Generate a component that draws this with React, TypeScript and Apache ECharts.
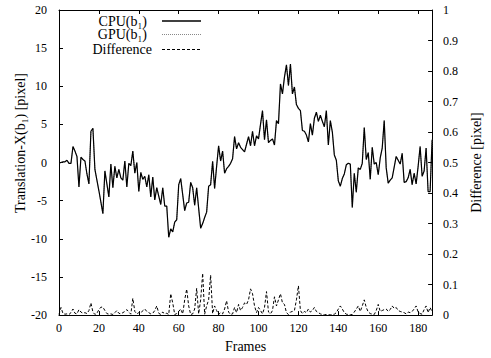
import React, { useEffect, useRef } from "react";
import * as echarts from "echarts";

// Translation-X(b1) per frame, CPU result
const cpuValues: number[] = [
  0, 0, 0.1, 0.1, 0.3, -0.1, -0.1, 2.1, 1.5, 0.8,
  -3.2, 0.7, 0.4, 0.2, -1.5, -2.8, 4.1, 4.5, -0.9, -2.3,
  -3.7, -5.2, -6.7, -1.1, -2.8, -4.5, -0.2, -3.3, -0.5, -2.0,
  -0.9, -2.0, -2.3, 0.2, -3.2, -0.1, -0.4, 1.5, -1.4, 0,
  -3.8, -1.3, -2.2, -1.8, -3.2, -1.6, -4.5, -1.9, -4.9, -3.3,
  -4.4, -5.5, -3.3, -5.7, -5.7, -9.8, -8.7, -9.1, -7.8, -7.5,
  -2.9, -2.1, -4.2, -6.3, -5.3, -5.2, -2.6, -3.3, -5.6, -3.3,
  -6.0, -8.6, -8.0, -7.2, -6.5, -3.1, -2.9, 0.15, -3.4, -0.5,
  2.2, 0.2, 1.5, -1.4, -0.8, -0.5, -0.1, 0.5, 3.4, 1.8,
  2.6, 2.0, 1.7, 1.4, 2.4, 3.4, 2.2, 4.1, 2.2, 3.5,
  3.1, 5.0, 6.8, 3.0, 5.6, 2.6, 2.9, 3.1, 2.3, 5.5,
  5.1, 10.3, 9.0, 11.2, 12.8, 10.1, 12.9, 9.0, 9.9, 7.6,
  7.1, 6.8, 4.2, 4.1, 3.6, 2.7, 5.1, 3.6, 5.8, 6.6,
  5.4, 6.2, 5.4, 4.7, 6.8, 2.3, 5.5, 4.0, 1.0, 0.3,
  -2.4, -3.1, -2.1, -1.5, -0.3, -0.1, -0.2, -5.9, -1.4, -3.9,
  -0.7, -0.9, -0.1, 4.6, 0.4, 1.3, -2.2, 2.0, -0.2, 0,
  -1.6, 0.6, 1.9, 5.5, -0.7, -2.7, -2.3, -2.0, -0.6, 0.8,
  0.3, -0.2, 1.2, -2.6, -2.5, -2.0, -0.9, -2.9, -1.4, -2.8,
  -0.5, 2.1, -1.8, -1.1, 1.9, -3.8, -3.8, 3.0,
];

// GPU result: indistinguishable from the CPU curve in the picture
const gpuValues: number[] = cpuValues.slice();

// Difference [pixel] per frame (right axis)
const diffValues: number[] = [
  0.002, 0.025, 0.005, 0.003, 0.004, 0.002, 0.008, 0.02, 0.006, 0.004,
  0.018, 0.01, 0.006, 0.008, 0.005, 0.015, 0.04, 0.01, 0.002, 0.006,
  0.018, 0.026, 0.026, 0.015, 0.005, 0.003, 0.004, 0.002, 0.008, 0.015,
  0.006, 0.004, 0.008, 0.012, 0.018, 0.01, 0.003, 0.055, 0.012, 0.004,
  0.008, 0.006, 0.015, 0.02, 0.012, 0.008, 0.004, 0.006, 0.015, 0.03,
  0.006, 0.002, 0.01, 0.004, 0.006, 0.002, 0.07, 0.04, 0.002, 0.005,
  0.012, 0.02, 0.004, 0.05, 0.085, 0.03, 0.002, 0.004, 0.02, 0.088,
  0.004, 0.05, 0.137, 0.003, 0.03, 0.05, 0.131, 0.005, 0.03, 0.015,
  0.002, 0.008, 0.004, 0.02, 0.047, 0.01, 0.002, 0.004, 0.025, 0.008,
  0.035, 0.015, 0.025, 0.04, 0.035, 0.05, 0.086, 0.07, 0.03, 0.008,
  0.025, 0.015, 0.004, 0.025, 0.077, 0.01, 0.004, 0.015, 0.06, 0.03,
  0.05, 0.07, 0.04, 0.035, 0.008, 0.002, 0.01, 0.012, 0.015, 0.05,
  0.096, 0.015, 0.005, 0.012, 0.008, 0.02, 0.01, 0.015, 0.025, 0.012,
  0.008, 0.004, 0.002, 0.001, 0.002, 0.001, 0.001, 0.002, 0.003, 0.008,
  0.02, 0.03, 0.02, 0.008, 0.003, 0.002, 0.001, 0.002, 0.01, 0.02,
  0.03, 0.012, 0.03, 0.05, 0.025, 0.01, 0.005, 0.003, 0.002, 0.015,
  0.035, 0.012, 0.015, 0.018, 0.02, 0.012, 0.018, 0.03, 0.022, 0.025,
  0.015, 0.012, 0.01, 0.008, 0.004, 0.01, 0.008, 0.012, 0.02, 0.03,
  0.01, 0.005, 0.003, 0.018, 0.03, 0.008, 0.025, 0.01,
];

const legendNames: string[] = ["CPU(b\u2081)", "GPU(b\u2081)", "Difference"];
const xAxisName = "Frames";
const leftAxisName = "Translation-X(b\u2081) [pixel]";
const rightAxisName = "Difference [pixel]";

const FONT = "'Liberation Serif', 'Times New Roman', 'DejaVu Serif', serif";

export default function App() {
  const ref = useRef<HTMLDivElement>(null);

  useEffect(() => {
    document.body.style.margin = "0";
    if (!ref.current) return;
    const chart = echarts.init(ref.current, undefined, { renderer: "svg" });

    const toPairs = (arr: number[]) => arr.map((v, i) => [i, v]);

    const tickStyle = { show: true, inside: true, length: 4, lineStyle: { color: "#000", width: 1 } };
    const lineStyleAxis = { show: true, onZero: false, lineStyle: { color: "#000", width: 1 } };
    const labelStyle = { color: "#000", fontFamily: FONT, fontSize: 12 };

    const legendRows = [
      { y: 21, textX: 147, name: legendNames[0], color: "#000", width: 1.3, dash: null as any },
      { y: 34.5, textX: 147, name: legendNames[1], color: "#888", width: 1, dash: [1, 1] },
      { y: 49.5, textX: 152, name: legendNames[2], color: "#000", width: 1, dash: [3, 2] },
    ];

    const graphics: any[] = [];
    legendRows.forEach((r) => {
      graphics.push({
        type: "text",
        x: r.textX,
        y: r.y,
        style: {
          text: r.name,
          fill: "#000",
          font: `14px ${FONT}`,
          align: "right",
          verticalAlign: "middle",
        },
      });
      graphics.push({
        type: "line",
        shape: { x1: 162, y1: r.y, x2: 201, y2: r.y },
        style: { stroke: r.color, lineWidth: r.width, lineDash: r.dash || undefined },
      });
    });
    graphics.push({
      type: "text",
      x: 20,
      y: 143,
      rotation: Math.PI / 2,
      style: {
        text: leftAxisName,
        fill: "#000",
        font: `14px ${FONT}`,
        align: "center",
        verticalAlign: "middle",
      },
    });

    chart.setOption({
      animation: false,
      backgroundColor: "#fff",
      grid: { left: 59, right: 53, top: 10, bottom: 39, containLabel: false },
      xAxis: [
        {
          type: "value",
          min: 0,
          max: 187,
          interval: 20,
          position: "bottom",
          name: xAxisName,
          nameLocation: "middle",
          nameGap: 21,
          nameTextStyle: { color: "#000", fontFamily: FONT, fontSize: 14 },
          axisLine: lineStyleAxis,
          axisTick: tickStyle,
          axisLabel: {
            ...labelStyle,
            margin: 7,
            formatter: (v: number) => (v % 20 === 0 ? String(v) : ""),
          },
          splitLine: { show: false },
        },
        {
          type: "value",
          min: 0,
          max: 187,
          interval: 20,
          position: "top",
          axisLine: lineStyleAxis,
          axisTick: tickStyle,
          axisLabel: { show: false },
          splitLine: { show: false },
        },
      ],
      yAxis: [
        {
          type: "value",
          min: -20,
          max: 20,
          interval: 5,
          position: "left",
          axisLine: lineStyleAxis,
          axisTick: tickStyle,
          axisLabel: { ...labelStyle, margin: 12 },
          splitLine: { show: false },
        },
        {
          type: "value",
          min: 0,
          max: 1,
          interval: 0.1,
          position: "right",
          name: rightAxisName,
          nameLocation: "middle",
          nameRotate: 90,
          nameGap: 33,
          nameTextStyle: { color: "#000", fontFamily: FONT, fontSize: 14 },
          axisLine: lineStyleAxis,
          axisTick: tickStyle,
          axisLabel: {
            ...labelStyle,
            margin: 11,
            formatter: (v: number) => String(Math.round(v * 10) / 10),
          },
          splitLine: { show: false },
        },
      ],
      series: [
        {
          name: legendNames[1],
          type: "line",
          xAxisIndex: 0,
          yAxisIndex: 0,
          data: toPairs(gpuValues),
          showSymbol: false,
          symbol: "none",
          lineStyle: { color: "#888", width: 1, type: [1, 1] },
          z: 2,
        },
        {
          name: legendNames[0],
          type: "line",
          xAxisIndex: 0,
          yAxisIndex: 0,
          data: toPairs(cpuValues),
          showSymbol: false,
          symbol: "none",
          lineStyle: { color: "#000", width: 1.2 },
          z: 3,
        },
        {
          name: legendNames[2],
          type: "line",
          xAxisIndex: 0,
          yAxisIndex: 1,
          data: toPairs(diffValues),
          showSymbol: false,
          symbol: "none",
          lineStyle: { color: "#000", width: 1, type: [3, 2] },
          z: 3,
        },
      ],
      graphic: graphics,
    });

    return () => chart.dispose();
  }, []);

  return <div ref={ref} style={{ width: 491, height: 358 }} />;
}
